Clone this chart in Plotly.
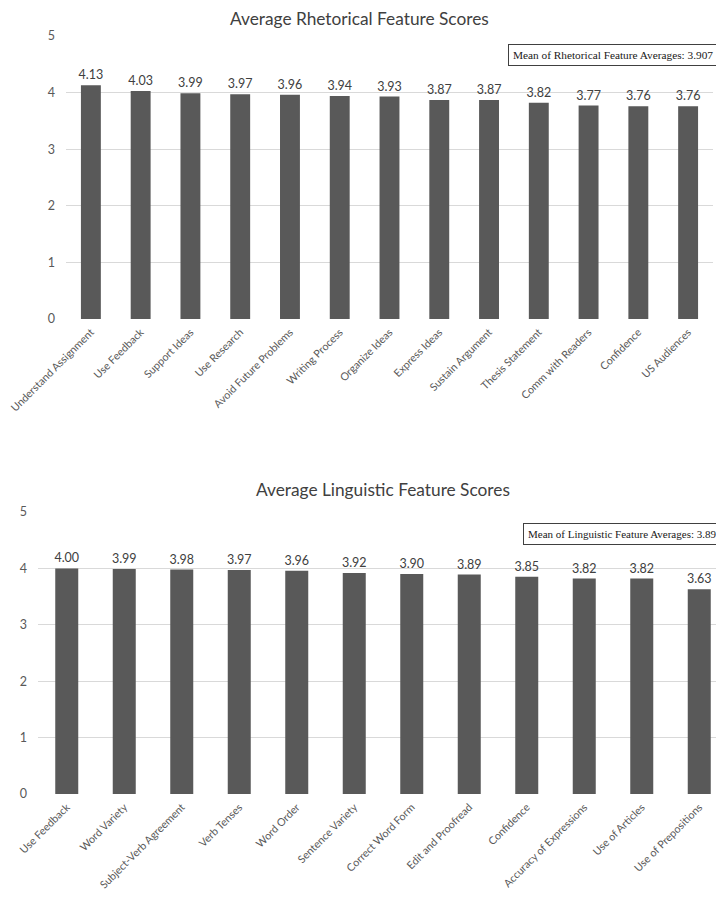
import plotly.graph_objects as go

# page body has an 8px margin; shrink the figure and map reference pixels accordingly
OFF = 8
W, H = 724 - OFF, 898 - OFF

rhet_categories = ["Understand Assignment", "Use Feedback", "Support Ideas", "Use Research",
                   "Avoid Future Problems", "Writing Process", "Organize Ideas", "Express Ideas",
                   "Sustain Argument", "Thesis Statement", "Comm with Readers", "Confidence",
                   "US Audiences"]
rhet_values = [4.13, 4.03, 3.99, 3.97, 3.96, 3.94, 3.93, 3.87, 3.87, 3.82, 3.77, 3.76, 3.76]
rhet_title = "Average Rhetorical Feature Scores"
rhet_mean_text = "Mean of Rhetorical Feature Averages: 3.907"

ling_categories = ["Use Feedback", "Word Variety", "Subject-Verb Agreement", "Verb Tenses",
                   "Word Order", "Sentence Variety", "Correct Word Form", "Edit and Proofread",
                   "Confidence", "Accuracy of Expressions", "Use of Articles", "Use of Prepositions"]
ling_values = [4.00, 3.99, 3.98, 3.97, 3.96, 3.92, 3.90, 3.89, 3.85, 3.82, 3.82, 3.63]
ling_title = "Average Linguistic Feature Scores"
ling_mean_text = "Mean of Linguistic Feature Averages: 3.893"

y_ticks = [0, 1, 2, 3, 4, 5]

BAR = "#595959"
GRID = "#d9d9d9"
TXT = "#595959"
FONT = "Lato, 'Open Sans', sans-serif"
SERIF = "'Liberation Serif', 'Times New Roman', serif"


def px_x(p):
    return (p - OFF) / W


def px_y(p):
    return 1 - (p - OFF) / H


fig = go.Figure()

for cats, vals, xa, ya in [(rhet_categories, rhet_values, "x", "y"),
                           (ling_categories, ling_values, "x2", "y2")]:
    fig.add_trace(go.Bar(x=cats, y=vals, xaxis=xa, yaxis=ya,
                         marker=dict(color=BAR, line=dict(width=0)), width=0.4,
                         text=[f"{v:.2f}" for v in vals], textposition="outside",
                         constraintext="none",
                         textfont=dict(family=FONT, size=12.5, color="#404040"),
                         cliponaxis=False, showlegend=False))

# bottom chart: category width 57.5 px, plot starts at x=38, runs off the right edge
n_vis = (724 - 38) / 57.5

axis_common = dict(showgrid=False, zeroline=False, showline=False, ticks="",
                   automargin=False, tickangle=-45, ticklabelstandoff=4,
                   tickfont=dict(family=FONT, size=10.7, color=TXT))
yaxis_common = dict(range=[0, 5], tickvals=y_ticks, showgrid=True, gridcolor=GRID,
                    gridwidth=1, zeroline=False, showline=False, ticks="",
                    automargin=False, ticklabelstandoff=10,
                    tickfont=dict(family=FONT, size=12.5, color=TXT))

fig.update_layout(
    template="none",
    width=W, height=H, margin=dict(l=0, r=0, t=0, b=0, autoexpand=False),
    paper_bgcolor="white", plot_bgcolor="white",
    uniformtext=dict(mode=False),
    xaxis=dict(domain=[px_x(66), px_x(713)], anchor="y",
               range=[-0.5, len(rhet_categories) - 0.5], **axis_common),
    yaxis=dict(domain=[px_y(319), px_y(36)], anchor="x", **yaxis_common),
    xaxis2=dict(domain=[px_x(38), 1], anchor="y2",
                range=[-0.5, -0.5 + n_vis], **axis_common),
    yaxis2=dict(domain=[px_y(794), px_y(512)], anchor="x2", **yaxis_common),
    annotations=[
        dict(text=rhet_title, xref="paper", yref="paper", x=px_x(359), y=px_y(19),
             xanchor="center", yanchor="middle", showarrow=False,
             font=dict(family=FONT, size=17.3, color="#404040")),
        dict(text=ling_title, xref="paper", yref="paper", x=px_x(383), y=px_y(489),
             xanchor="center", yanchor="middle", showarrow=False,
             font=dict(family=FONT, size=17.3, color="#404040")),
        dict(text=rhet_mean_text, xref="paper", yref="paper", x=px_x(508), y=px_y(44),
             xanchor="left", yanchor="top", showarrow=False,
             bordercolor="#404040", borderwidth=1, borderpad=4, bgcolor="white",
             font=dict(family=SERIF, size=11.3, color="#202020")),
        dict(text=ling_mean_text, xref="paper", yref="paper", x=px_x(523), y=px_y(523),
             xanchor="left", yanchor="top", showarrow=False,
             bordercolor="#404040", borderwidth=1, borderpad=4, bgcolor="white",
             font=dict(family=SERIF, size=11, color="#202020")),
    ],
)

fig.write_html("out.html")
